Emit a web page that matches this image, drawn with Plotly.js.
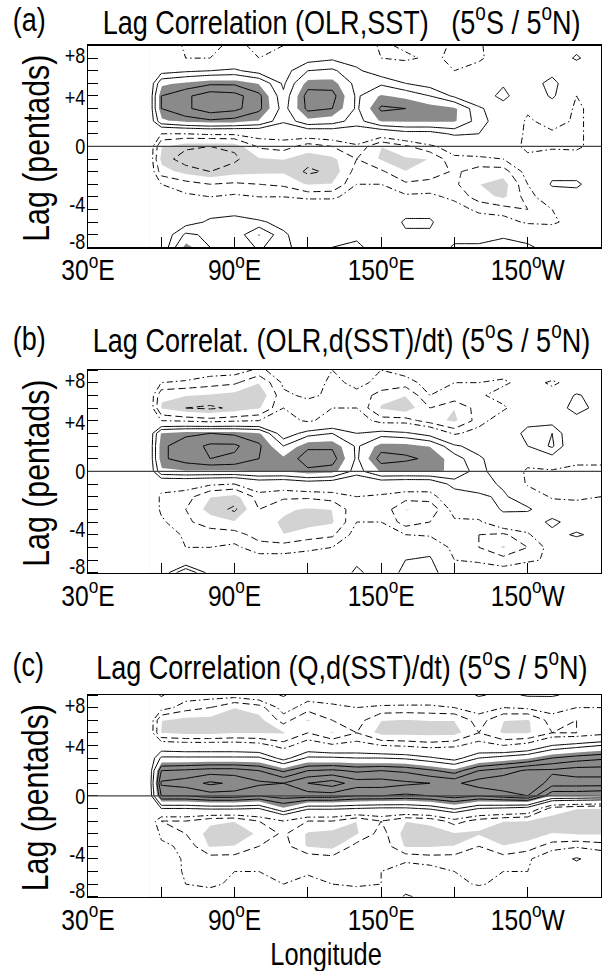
<!DOCTYPE html>
<html><head><meta charset="utf-8">
<script src="https://cdn.plot.ly/plotly-3.0.1.min.js"></script>
<style>body{margin:0;padding:0;background:#fff}#chart{width:602px;height:971px}</style>
</head><body><div id="chart"></div>
<script>
// Longitude grid (deg E); 55 is the zero-padded edge west of the data
const lon = [55,60,70,80,90,100,110,120,130,140,150,160,170,180,190,200,210,220,230,240];
// Lag grid (axis units, top to bottom)
const lag = [8,7,6,5,4,3,2,1,0,-1,-2,-3,-4,-5,-6,-7,-8];

// (a) Lag correlation OLR, SST
const zA = [
[0,0,-0.12,-0.15,-0.05,-0.15,-0.1,0,0,0,-0.12,-0.08,-0.05,-0.12,-0.12,0,0,0,0.05,0],
[0,0,-0.1,-0.1,-0.02,-0.1,-0.05,0.05,0.08,0.05,-0.1,-0.12,-0.08,-0.12,-0.12,-0.03,0,0,0.12,0],
[0,0.05,0.08,0.1,0.12,0.05,0.05,0.2,0.22,0.12,0.03,-0.02,-0.05,-0.1,-0.05,0,0.02,0.05,0,-0.02],
[0,0.28,0.33,0.38,0.38,0.3,0.08,0.35,0.35,0.16,0.18,0.1,0.05,-0.02,0,0.08,0.02,0.15,-0.05,-0.05],
[0,0.4,0.48,0.56,0.54,0.43,0.12,0.45,0.44,0.18,0.32,0.28,0.2,0.08,0,0.15,-0.05,0.13,-0.1,-0.05],
[0,0.4,0.48,0.56,0.53,0.43,0.15,0.43,0.4,0.18,0.42,0.4,0.36,0.33,0.12,0.02,-0.08,0,-0.12,-0.05],
[0,0.28,0.35,0.38,0.36,0.3,0.12,0.28,0.25,0.15,0.32,0.33,0.33,0.32,0.15,0.02,-0.12,-0.05,-0.12,-0.05],
[0,-0.1,-0.1,-0.08,-0.08,-0.05,-0.05,-0.02,0,0.02,-0.02,0.05,0.05,0.12,0.1,-0.02,-0.12,-0.12,-0.12,-0.05],
[0,-0.3,-0.38,-0.4,-0.38,-0.18,-0.15,-0.25,-0.2,-0.12,-0.3,-0.22,-0.12,-0.05,-0.02,-0.05,-0.12,-0.12,-0.12,-0.05],
[0,-0.35,-0.45,-0.48,-0.42,-0.32,-0.3,-0.36,-0.33,-0.2,-0.32,-0.32,-0.3,-0.12,-0.12,-0.1,-0.08,-0.03,-0.05,0],
[0,-0.25,-0.35,-0.4,-0.35,-0.33,-0.32,-0.42,-0.38,-0.15,-0.18,-0.3,-0.28,-0.18,-0.25,-0.25,-0.05,0.05,0.05,0],
[0,-0.1,-0.15,-0.2,-0.18,-0.2,-0.22,-0.32,-0.3,-0.1,-0.1,-0.18,-0.15,-0.18,-0.3,-0.36,-0.1,0.12,0.12,0.02],
[0,-0.02,-0.08,-0.1,-0.08,-0.1,-0.1,-0.12,-0.12,-0.05,-0.05,-0.08,-0.08,-0.12,-0.25,-0.33,-0.15,0,0.05,0],
[0,0,0,0.05,0.08,0,0,0,0,0,0,0.05,0.05,-0.06,-0.12,-0.15,-0.2,-0.1,-0.05,0],
[0,0,0.05,0.12,0.12,0.12,0.06,0.02,0,0.02,0,0.12,0.12,-0.02,-0.05,-0.05,-0.12,-0.12,-0.05,0],
[0,0,0.22,0.18,0.12,0.32,0.12,0.02,0.05,0.08,0.05,0.08,0.08,0.05,0.05,0.08,0.05,-0.02,0,0],
[0,0,0.35,0.2,0.1,0.22,0.12,0.06,0.1,0.12,0.05,0,0,0.12,0.12,0.15,0.12,0.05,0,0]
];

// (b) Lag correlation OLR, d(SST)/dt
const zB = [
[0,0,0,-0.05,-0.05,-0.12,-0.05,-0.08,-0.1,-0.05,-0.1,-0.05,0,-0.05,-0.02,-0.05,0,0,0,0],
[0,-0.1,-0.12,-0.15,-0.18,-0.3,-0.08,-0.05,-0.12,-0.08,-0.12,-0.15,-0.05,-0.1,-0.1,-0.12,-0.05,-0.12,-0.05,0],
[0,-0.28,-0.3,-0.32,-0.35,-0.4,-0.12,-0.08,-0.12,-0.12,-0.25,-0.3,-0.1,-0.12,-0.12,-0.05,-0.02,-0.05,0.12,0.02],
[0,-0.32,-0.4,-0.42,-0.38,-0.32,-0.1,-0.15,-0.1,-0.1,-0.32,-0.38,-0.2,-0.3,-0.15,-0.12,0,0.02,0.15,0.05],
[0,-0.1,-0.12,-0.15,-0.12,-0.1,-0.05,-0.12,-0.05,-0.02,-0.15,-0.15,-0.25,-0.33,-0.15,-0.02,0.08,0.05,0.05,0.02],
[0,0.33,0.38,0.4,0.38,0.33,0.02,0.15,0.2,0.1,0.15,0.12,0.05,-0.12,-0.05,0.05,0.12,0.2,-0.05,0],
[0,0.38,0.45,0.52,0.52,0.42,0.2,0.38,0.38,0.18,0.35,0.35,0.3,0.12,0.05,0.08,0.1,0.22,-0.05,-0.05],
[0,0.38,0.45,0.5,0.48,0.4,0.33,0.45,0.45,0.18,0.45,0.42,0.38,0.25,0.12,0.02,-0.05,0.05,-0.08,-0.08],
[0,0.28,0.3,0.3,0.3,0.32,0.32,0.38,0.35,0.15,0.32,0.32,0.33,0.28,0.15,0,-0.12,-0.12,-0.12,-0.12],
[0,-0.05,-0.05,-0.08,-0.1,0,-0.02,0.02,0,-0.02,0,-0.02,-0.02,0.15,0.15,0.08,-0.12,-0.15,-0.12,-0.12],
[0,-0.12,-0.15,-0.3,-0.35,-0.15,-0.18,-0.18,-0.15,-0.1,-0.12,-0.15,-0.15,0.02,0.08,0.12,0.02,-0.12,-0.12,-0.1],
[0,-0.12,-0.2,-0.35,-0.42,-0.2,-0.28,-0.32,-0.3,-0.12,-0.12,-0.31,-0.28,-0.05,-0.02,0.12,0.12,0,-0.05,-0.05],
[0,-0.08,-0.18,-0.25,-0.3,-0.25,-0.32,-0.35,-0.32,-0.1,-0.1,-0.25,-0.2,-0.12,-0.12,0.02,0,0.14,0.02,0.05],
[0,-0.03,-0.12,-0.15,-0.15,-0.25,-0.3,-0.25,-0.22,-0.05,-0.05,-0.1,-0.12,-0.15,-0.2,-0.22,-0.12,0.05,0.12,0.05],
[0,0,-0.1,-0.1,-0.08,-0.15,-0.15,-0.12,-0.1,0,0,0.02,0.05,-0.15,-0.2,-0.32,-0.2,-0.05,0,0],
[0,0,-0.05,-0.02,-0.05,-0.05,-0.05,-0.05,-0.05,0.08,0.02,0.1,0.12,-0.1,-0.12,-0.15,-0.12,-0.08,0,0],
[0,0,0.32,0.05,0,0,0.05,0.02,0.02,0.12,0.05,0.12,0.15,0,-0.02,-0.05,0,0,0,0]
];

// (c) Lag correlation Q, d(SST)/dt
const zC = [
[0,0.12,-0.05,-0.05,-0.05,0,0.12,-0.05,-0.05,0,0,-0.02,-0.02,-0.02,0.12,0.05,0.12,0.12,0.05,0],
[0,-0.05,-0.15,-0.2,-0.3,-0.25,-0.05,-0.15,-0.12,-0.1,-0.12,-0.12,-0.12,-0.1,-0.05,-0.1,-0.08,-0.05,-0.1,-0.1],
[0,-0.3,-0.35,-0.35,-0.38,-0.35,-0.15,-0.32,-0.2,-0.15,-0.3,-0.32,-0.3,-0.3,-0.15,-0.3,-0.32,-0.15,-0.2,-0.15],
[0,-0.32,-0.35,-0.35,-0.32,-0.32,-0.32,-0.2,-0.32,-0.2,-0.35,-0.35,-0.35,-0.35,-0.2,-0.32,-0.32,-0.2,-0.2,-0.15],
[0,0,-0.02,-0.02,-0.02,-0.05,-0.15,-0.02,-0.08,-0.05,-0.1,-0.12,-0.15,-0.12,-0.05,-0.1,-0.05,0.1,0.15,0.2],
[0,0.22,0.22,0.22,0.22,0.22,0.05,0.22,0.22,0.2,0.2,0.18,0.12,0.05,0.2,0.25,0.3,0.4,0.45,0.48],
[0,0.5,0.52,0.55,0.55,0.5,0.38,0.5,0.52,0.48,0.5,0.48,0.42,0.35,0.5,0.55,0.62,0.62,0.65,0.65],
[0,0.62,0.65,0.72,0.68,0.62,0.6,0.7,0.75,0.65,0.65,0.62,0.6,0.58,0.65,0.68,0.7,0.55,0.55,0.55],
[0,0.5,0.5,0.55,0.55,0.5,0.55,0.55,0.55,0.5,0.5,0.48,0.5,0.55,0.5,0.55,0.6,0.32,0.32,0.3],
[0,0.1,0.1,0.12,0.12,0.1,0.3,0.12,0.12,0.1,0.08,0.08,0.12,0.22,0.1,0.08,0.05,-0.25,-0.3,-0.32],
[0,-0.2,-0.2,-0.28,-0.3,-0.2,-0.1,-0.2,-0.2,-0.3,-0.2,-0.3,-0.28,-0.15,-0.25,-0.3,-0.32,-0.35,-0.35,-0.38],
[0,-0.12,-0.2,-0.35,-0.4,-0.28,-0.18,-0.32,-0.35,-0.32,-0.15,-0.35,-0.35,-0.32,-0.32,-0.35,-0.38,-0.3,-0.32,-0.32],
[0,-0.08,-0.12,-0.32,-0.3,-0.2,-0.15,-0.32,-0.35,-0.15,-0.12,-0.32,-0.32,-0.3,-0.2,-0.3,-0.25,-0.15,-0.12,-0.15],
[0,-0.02,-0.12,-0.15,-0.15,-0.12,-0.12,-0.12,-0.15,-0.1,-0.1,-0.12,-0.15,-0.15,-0.12,-0.15,-0.12,0,0.12,0],
[0,0,-0.12,-0.12,-0.1,-0.1,-0.12,-0.12,-0.12,-0.12,-0.1,-0.05,-0.05,-0.1,-0.12,-0.1,-0.1,-0.05,0,-0.02],
[0,0,-0.1,-0.12,-0.08,-0.05,-0.1,-0.05,-0.1,-0.12,-0.1,0.02,0,-0.05,-0.12,-0.05,-0.05,-0.02,-0.02,-0.02],
[0,0,-0.02,-0.05,-0.02,0,0,0,-0.05,-0.02,-0.05,0.12,0.05,0,0.05,0,0.05,0,0,0]
];

const panelTitles = [
  'Lag Correlation (OLR,SST)\u00a0\u00a0\u00a0(5<sup>o</sup>S / 5<sup>o</sup>N)',
  'Lag Correlat. (OLR,d(SST)/dt) (5<sup>o</sup>S / 5<sup>o</sup>N)',
  'Lag Correlation (Q,d(SST)/dt) (5<sup>o</sup>S / 5<sup>o</sup>N)'
];
const panelLetters = ['(a)','(b)','(c)'];
const xTickVals = [30,90,150,210];
const xTickText = ['30<sup>o</sup>E','90<sup>o</sup>E','150<sup>o</sup>E','150<sup>o</sup>W'];
const yTickVals = [7.2,3.9,0,-4.6,-7.5];
const yTickText = ['+8','+4','0','-4','-8'];

const FONT = '"Liberation Sans",Arial,sans-serif';
const NARROW = 0.82;   // horizontal squeeze to imitate a narrow Helvetica
const W = 602, H = 971;
const xPix = [88, 601];
const yPix = [[45.5,247.3],[370,572.7],[695,896.7]];
const fy = p => 1 - p / H;

const LIGHT = '#d3d3d3', DARK = '#8a8a8a';
const traces = [];
const zs = [zA, zB, zC];
zs.forEach((z, i) => {
  const xa = i === 0 ? 'x' : 'x' + (i + 1);
  const ya = i === 0 ? 'y' : 'y' + (i + 1);
  const common = {type:'contour', x: lon, y: lag, z: z, xaxis: xa, yaxis: ya,
    showscale:false, hoverinfo:'skip'};
  traces.push(Object.assign({}, common, {
    contours:{coloring:'fill', start:-0.3, end:0.3, size:0.6, showlines:true},
    colorscale:[[0,LIGHT],[0.25,LIGHT],[0.25,'#ffffff'],[0.75,'#ffffff'],[0.75,DARK],[1,DARK]],
    line:{color:'#ffffff', width:1.5, smoothing:0}
  }));
  const lineSet = (start, end, size, dash) => Object.assign({}, common, {
    contours:{coloring:'none', start:start, end:end, size:size, showlines:true},
    line:{color:'#000000', width:1, dash:dash, smoothing:0}
  });
  traces.push(lineSet(0.1, 0.2, 0.1, 'solid'));
  traces.push(lineSet(0.4, 0.9, 0.1, 'solid'));
  traces.push(lineSet(-0.1, -0.1, 1, '6px,3px,1.5px,3px'));
  traces.push(lineSet(-0.2, -0.2, 1, '7px,4px'));
  traces.push(lineSet(-0.6, -0.4, 0.1, '7px,4px'));
});

const layout = {
  width: W, height: H, margin:{l:0,r:0,t:0,b:0},
  paper_bgcolor:'#ffffff', plot_bgcolor:'#ffffff',
  font:{family:FONT, color:'#000000'},
  showlegend:false, annotations:[], shapes:[]
};
for (let i = 0; i < 3; i++) {
  const sfx = i === 0 ? '' : String(i + 1);
  layout['xaxis' + sfx] = {
    domain:[xPix[0]/W, xPix[1]/W], anchor: 'y' + sfx, range:[30,240],
    tickmode:'array', tickvals:xTickVals, ticktext:xTickText,
    ticks:'inside', ticklen:10, tickwidth:1, tickcolor:'#000', ticklabelstandoff:-4,
    minor:{tickmode:'linear', tick0:30, dtick:30, ticks:'inside', ticklen:10, tickwidth:1, tickcolor:'#000', showgrid:false},
    tickfont:{size:30, family:FONT}, showgrid:false, zeroline:false,
    showline:true, mirror:true, linecolor:'#000', linewidth:1.2, layer:'above traces'
  };
  layout['yaxis' + sfx] = {
    domain:[fy(yPix[i][1]), fy(yPix[i][0])], anchor: 'x' + sfx, range:[-8,8],
    tickmode:'array', tickvals:yTickVals, ticktext:yTickText, ticks:'', ticklabelstandoff:-3,
    minor:{tickmode:'linear', tick0:0, dtick:1, ticks:'inside', ticklen:10, tickcolor:'#000', tickwidth:1, showgrid:false},
    tickfont:{size:22, family:FONT}, showgrid:false, zeroline:false,
    showline:true, mirror:true, linecolor:'#000', linewidth:1.2, layer:'above traces'
  };
  layout.shapes.push({type:'line', xref:'x' + sfx + ' domain', yref:'y' + sfx, x0:0, x1:1, y0:0, y1:0,
    line:{color:'#444', width:1.2}, layer:'above'});
  const base = [36.7, 355, 681.7][i];
  layout.annotations.push({text:panelLetters[i], xref:'paper', yref:'paper', x:7/W, y:fy(base-17),
    xanchor:'left', yanchor:'middle', showarrow:false, font:{size:33, family:FONT}});
  layout.annotations.push({text:panelTitles[i], xref:'paper', yref:'paper', x:342/W, y:fy(base-17),
    xanchor:'center', yanchor:'middle', showarrow:false, font:{size:33, family:FONT}});
  layout.annotations.push({text:'Lag (pentads)', xref:'paper', yref:'paper', x:36/W, y:fy((yPix[i][0]+yPix[i][1])/2 + 2),
    xanchor:'center', yanchor:'middle', textangle:-90, showarrow:false, font:{size:37, family:FONT}});
}
layout.annotations.push({text:'Longitude', xref:'paper', yref:'paper', x:326/W, y:fy(954),
  xanchor:'center', yanchor:'middle', showarrow:false, font:{size:31, family:FONT}});

// Squeeze every text horizontally about its anchor point (narrow Helvetica look)
Plotly.newPlot('chart', traces, layout, {staticPlot:true}).then(gd => {
  gd.querySelectorAll('svg text').forEach(t => {
    if (!t.textContent) return;
    const bb = t.getBBox();
    if (!bb.width) return;
    const anchor = t.getAttribute('text-anchor') || 'start';
    const ax = anchor === 'middle' ? bb.x + bb.width / 2 : (anchor === 'end' ? bb.x + bb.width : bb.x);
    const prev = t.getAttribute('transform') || '';
    t.setAttribute('transform', (prev + ' translate(' + ax + ',0) scale(' + NARROW + ',1) translate(' + (-ax) + ',0)').trim());
  });
});
</script></body></html>
